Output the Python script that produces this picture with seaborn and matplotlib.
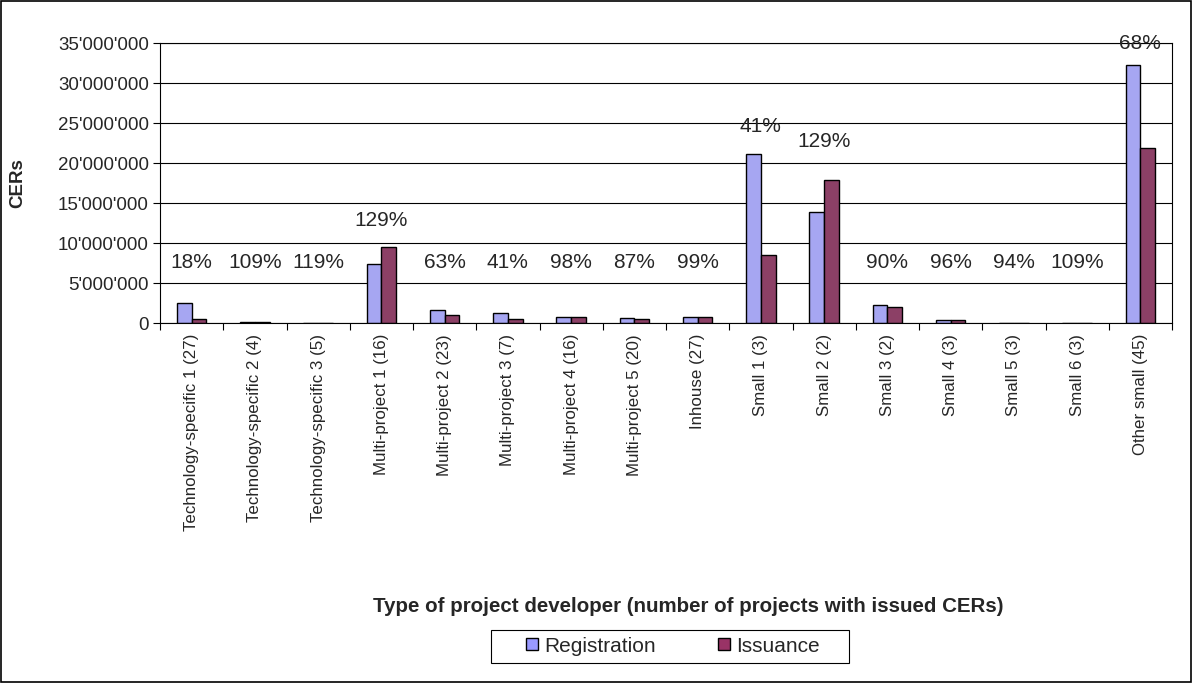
import pandas as pd
import numpy as np
import seaborn as sns
import matplotlib.pyplot as plt
from matplotlib.ticker import FuncFormatter, FixedLocator
from matplotlib.patches import Patch

# categories and values (CERs)
categories = ['Technology-specific 1 (27)', 'Technology-specific 2 (4)', 'Technology-specific 3 (5)',
              'Multi-project 1 (16)', 'Multi-project 2 (23)', 'Multi-project 3 (7)',
              'Multi-project 4 (16)', 'Multi-project 5 (20)', 'Inhouse (27)',
              'Small 1 (3)', 'Small 2 (2)', 'Small 3 (2)', 'Small 4 (3)', 'Small 5 (3)',
              'Small 6 (3)', 'Other small (45)']
registration = [2.5e6, 0.15e6, 0.02e6, 7.4e6, 1.6e6, 1.2e6, 0.8e6, 0.6e6, 0.8e6,
                21.1e6, 13.9e6, 2.25e6, 0.4e6, 0.02e6, 0.02e6, 32.3e6]
issuance = [0.45e6, 0.16e6, 0.024e6, 9.5e6, 1.0e6, 0.5e6, 0.78e6, 0.52e6, 0.79e6,
            8.5e6, 17.9e6, 2.04e6, 0.38e6, 0.019e6, 0.022e6, 21.9e6]
pct_labels = ['18%', '109%', '119%', '129%', '63%', '41%', '98%', '87%', '99%',
              '41%', '129%', '90%', '96%', '94%', '109%', '68%']
# height (CERs) where each ratio label sits
pct_level = [7.6e6, 7.6e6, 7.6e6, 12.8e6, 7.6e6, 7.6e6, 7.6e6, 7.6e6, 7.6e6,
             24.6e6, 22.7e6, 7.6e6, 7.6e6, 7.6e6, 7.6e6, 34.9e6]

df = pd.DataFrame({
    'Category': categories * 2,
    'CERs': registration + issuance,
    'Series': ['Registration'] * len(categories) + ['Issuance'] * len(categories)})

sns.set_style("white")
plt.rcParams['font.family'] = ['Liberation Sans', 'DejaVu Sans']

fig = plt.figure(figsize=(11.92, 6.83), dpi=100)
ax = fig.add_axes([160 / 1192, 1 - 323 / 683, (1172 - 160) / 1192, (323 - 43) / 683])

colors = {'Registration': '#9999FF', 'Issuance': '#993366'}
sns.barplot(data=df, x='Category', y='CERs', hue='Series', palette=colors,
            width=0.47, edgecolor='black', linewidth=1, ax=ax, legend=False)

ax.set_ylim(0, 35e6)
ax.set_xlim(-0.5, len(categories) - 0.5)
ax.yaxis.set_major_locator(FixedLocator(np.arange(0, 35e6 + 1, 5e6)))
ax.yaxis.set_major_formatter(FuncFormatter(lambda v, p: f"{int(v):,}".replace(',', "'")))
ax.grid(axis='y', color='black', linewidth=0.8)
ax.set_axisbelow(True)
for s in ax.spines.values():
    s.set_color('black')
    s.set_linewidth(0.8)

ax.tick_params(axis='y', labelsize=13.5, length=5, width=0.8, color='black', direction='out', left=True, pad=3)
ax.tick_params(axis='x', which='major', labelsize=12.2, length=0, pad=8)
ax.set_xticks(range(len(categories)))
ax.set_xticklabels(categories, rotation=90, va='top')
ax.set_xticks(np.arange(-0.5, len(categories), 1), minor=True)
ax.tick_params(axis='x', which='minor', length=5, width=0.8, color='black', direction='out', bottom=True)

for i, (t, h) in enumerate(zip(pct_labels, pct_level)):
    ax.text(i, h, t, ha='center', va='center', fontsize=15)

ax.set_ylabel('')
ax.set_xlabel('')
fig.text(18 / 1192, 1 - 183 / 683, 'CERs', rotation=90, ha='center', va='center',
         fontsize=13.5, fontweight='bold')
fig.text(688 / 1192, 1 - 606 / 683, 'Type of project developer (number of projects with issued CERs)',
         ha='center', va='center', fontsize=14.8, fontweight='bold')

# legend without its own frame, box drawn separately to get Excel-like padding
handles = [Patch(facecolor=colors[k], edgecolor='black', label=k) for k in colors]
leg = fig.legend(handles=handles, loc='center', bbox_to_anchor=(673 / 1192, 1 - 646 / 683),
                 ncol=2, frameon=False, fontsize=15, handlelength=0.55,
                 handleheight=0.55, columnspacing=3.0, handletextpad=0.3)
fig.patches.append(plt.Rectangle((491 / 1192, 1 - 663 / 683), 358 / 1192, 33 / 683,
                                 transform=fig.transFigure, fill=False, edgecolor='black', linewidth=0.8))

fig.patches.append(plt.Rectangle((0.001, 0.001), 0.998, 0.998, transform=fig.transFigure,
                                 fill=False, edgecolor='black', linewidth=1.2))

plt.savefig('out.png', dpi=100)
plt.close()
